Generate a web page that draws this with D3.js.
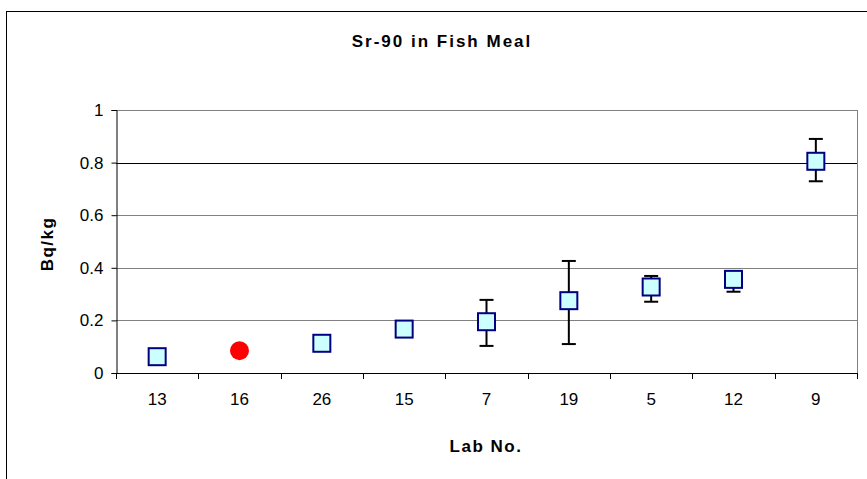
<!DOCTYPE html>
<html><head><meta charset="utf-8">
<script src="https://cdn.jsdelivr.net/npm/d3@7"></script>
<style>body{margin:0;background:#fff}svg{display:block}text{font-family:"Liberation Sans",Arial,sans-serif}</style>
</head><body><svg id="c" width="867" height="479"></svg>
<script>
const labs = ["13","16","26","15","7","19","5","12","9"];
const values = [0.062, 0.085, 0.113, 0.167, 0.195, 0.275, 0.327, 0.356, 0.805];
const errLow = [null, null, null, null, 0.103, 0.110, 0.271, 0.309, 0.729];
const errHigh = [null, null, null, null, 0.278, 0.426, 0.369, 0.380, 0.890];
const highlight = ["16"];
const yTicks = [0, 0.2, 0.4, 0.6, 0.8, 1];

const svg = d3.select("#c");
const L = 116, R = 857, T = 110, B = 373;
svg.append("rect").attr("x",6.5).attr("y",11.5).attr("width",900).attr("height",500)
  .attr("fill","#fff").attr("stroke","#000").attr("stroke-width",1);

const x = d3.scaleBand().domain(labs).range([L,R]);
const y = d3.scaleLinear().domain([0,1]).range([B,T]);

// gridlines
svg.append("g").selectAll("line").data(yTicks.filter(d=>d>0)).join("line")
  .attr("x1",L).attr("x2",R).attr("y1",d=>Math.round(y(d))+0.5).attr("y2",d=>Math.round(y(d))+0.5)
  .attr("stroke",d=>d===0.8?"#000":"#808080").attr("stroke-width",1);
// right border
svg.append("line").attr("x1",R+0.5).attr("x2",R+0.5).attr("y1",T).attr("y2",B).attr("stroke","#808080");

// axes
const ya = svg.append("g").attr("transform",`translate(${L+0.5},0)`)
  .call(d3.axisLeft(y).tickValues(yTicks).tickSize(5).tickPadding(8).tickFormat(d=>d===0?"0":d===1?"1":d3.format(".1f")(d)));
ya.select(".domain").attr("stroke","#000");
ya.selectAll("text").attr("font-size",17).attr("fill","#000");
ya.selectAll(".tick line").attr("stroke","#000");

const xa = svg.append("g").attr("transform",`translate(0,${B+0.5})`)
  .call(d3.axisBottom(x).tickSize(0).tickPadding(19));
xa.select(".domain").remove();
xa.selectAll("text").attr("font-size",17).attr("fill","#000");
svg.append("line").attr("x1",L).attr("x2",R+1).attr("y1",B+0.5).attr("y2",B+0.5).attr("stroke","#000");
svg.append("g").selectAll("line").data(labs.concat(["end"])).join("line")
  .attr("x1",(d,i)=>Math.round(L + i*x.step())+0.5).attr("x2",(d,i)=>Math.round(L + i*x.step())+0.5)
  .attr("y1",B).attr("y2",B+6).attr("stroke","#000");

// error bars
const eg = svg.append("g");
labs.forEach((l,i)=>{
  if(errLow[i]==null) return;
  const cx = x(l)+x.bandwidth()/2;
  eg.append("line").attr("x1",cx).attr("x2",cx).attr("y1",y(errLow[i])).attr("y2",y(errHigh[i])).attr("stroke","#000").attr("stroke-width",2);
  [errLow[i],errHigh[i]].forEach(v=>eg.append("line").attr("x1",cx-7).attr("x2",cx+7).attr("y1",y(v)).attr("y2",y(v)).attr("stroke","#000").attr("stroke-width",2));
});

// markers
const mg = svg.append("g");
labs.forEach((l,i)=>{
  const cx = x(l)+x.bandwidth()/2, cy = y(values[i]);
  if(highlight.includes(l)){
    mg.append("circle").attr("cx",cx).attr("cy",cy).attr("r",9.5).attr("fill","#ff0000");
  } else {
    mg.append("rect").attr("x",cx-8.5).attr("y",cy-8.5).attr("width",17).attr("height",17)
      .attr("fill","#ccffff").attr("stroke","#000080").attr("stroke-width",2);
  }
});

// titles
svg.append("text").attr("x",442).attr("y",47).attr("text-anchor","middle").attr("font-size",17).attr("letter-spacing","2px").attr("font-weight","bold").text("Sr-90 in Fish Meal");
svg.append("text").attr("x",486).attr("y",452).attr("text-anchor","middle").attr("font-size",17).attr("letter-spacing","1.5px").attr("font-weight","bold").text("Lab No.");
svg.append("text").attr("transform","translate(53,244) rotate(-90)").attr("text-anchor","middle").attr("font-size",17).attr("letter-spacing","1.5px").attr("font-weight","bold").text("Bq/kg");
</script></body></html>
